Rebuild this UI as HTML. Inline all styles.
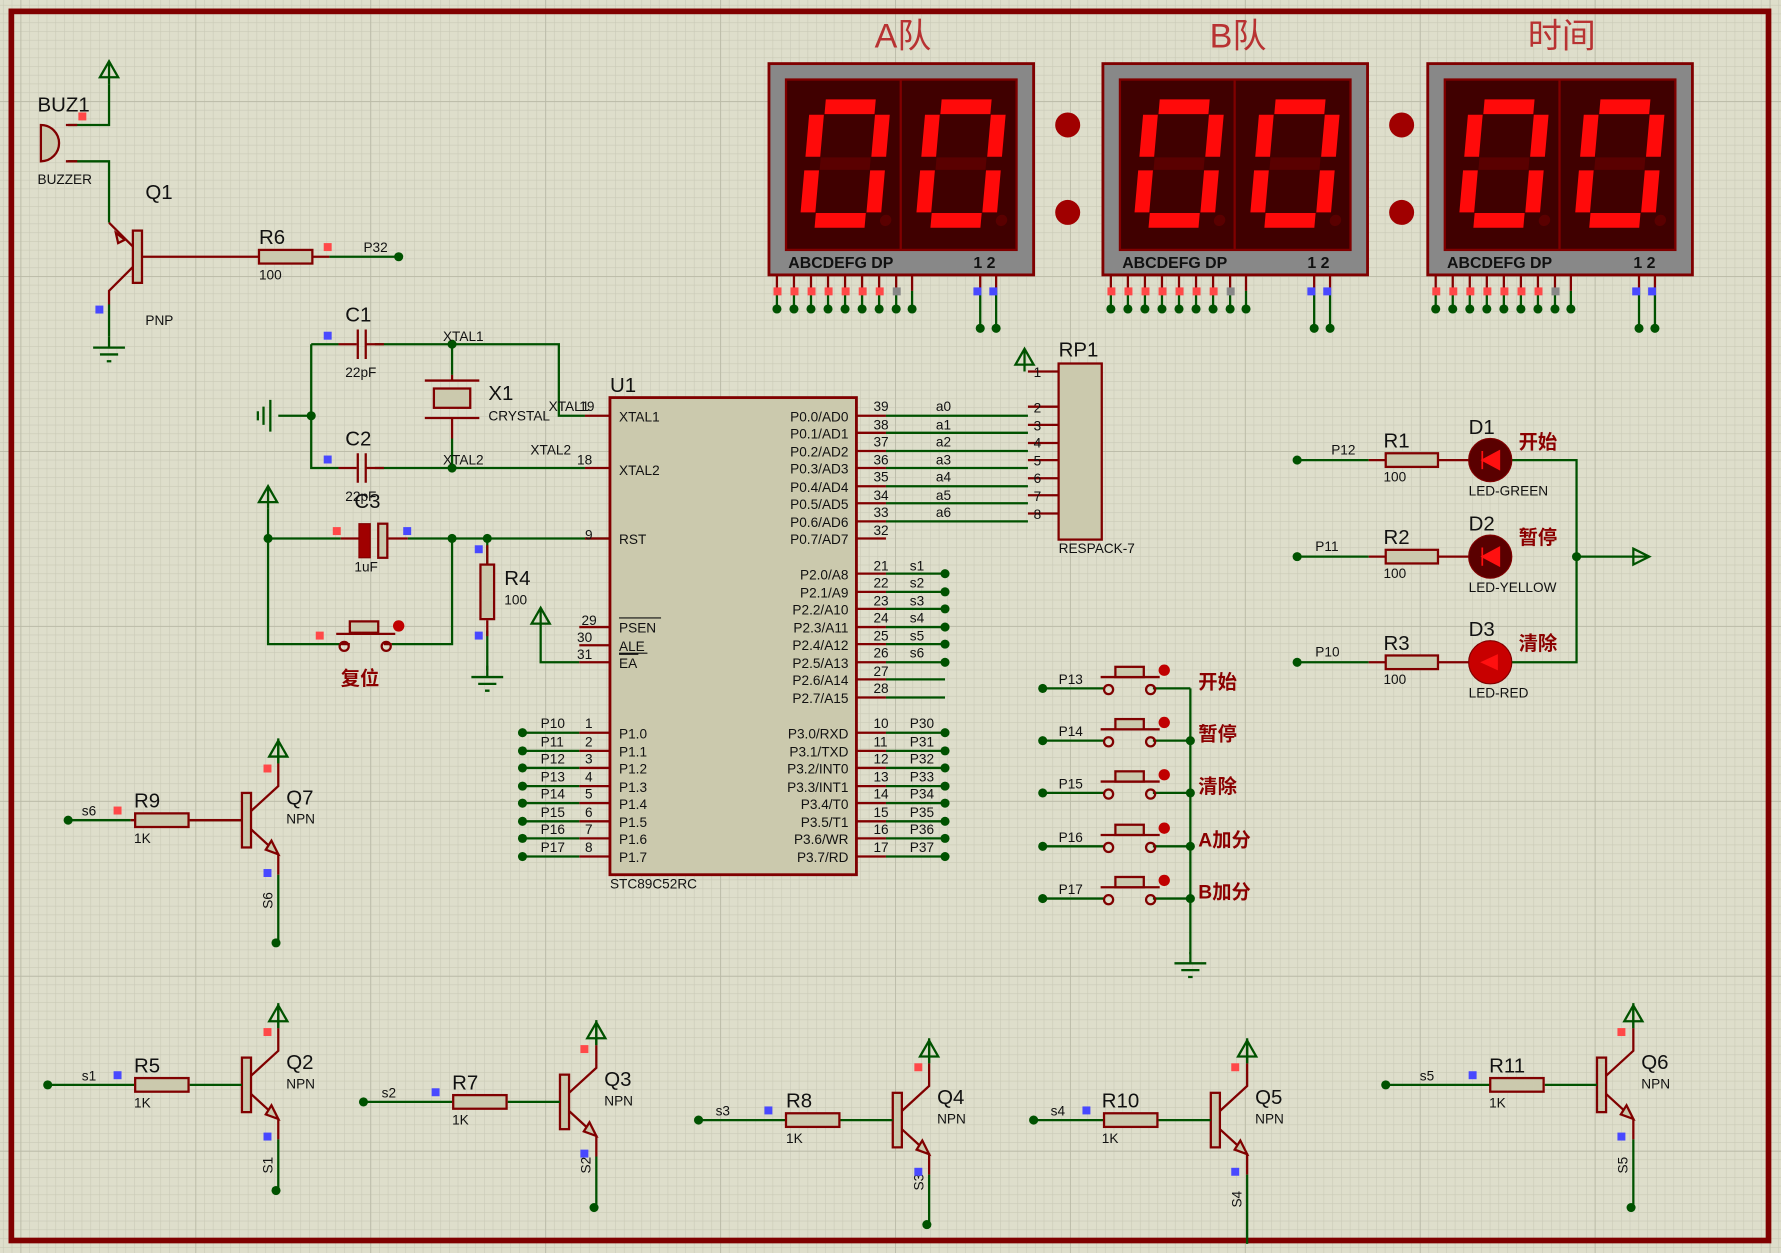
<!DOCTYPE html>
<html><head><meta charset="utf-8"><style>
html,body{margin:0;padding:0;background:#dedecb}
svg{display:block}
text{font-family:"Liberation Sans","Noto Sans CJK SC",sans-serif}
.w{stroke:#005200;stroke-width:2;fill:none}
.r{stroke:#800000;stroke-width:2;fill:none}
.b{fill:#cbc9ad;stroke:#800000;stroke-width:2}
.t{font-size:14px;fill:#111}
.s{font-size:12px;fill:#111}
.L{font-size:18px;fill:#111}
.cn{font-size:17px;fill:#8b0000;font-weight:bold}
.g{fill:#005200}
</style></head><body>
<svg width="1781" height="1253" viewBox="0 0 1568 1103" preserveAspectRatio="none" xmlns="http://www.w3.org/2000/svg">
<defs>
<pattern id="mi" x="18" y="89" width="7.7" height="7.7" patternUnits="userSpaceOnUse"><path d="M0 0H7.7M0 0V7.7" stroke="#c9c9b6" stroke-width="1"/></pattern>
<pattern id="ma" x="18" y="89" width="154" height="154" patternUnits="userSpaceOnUse"><path d="M0 0H154M0 0V154" stroke="#b9b9a6" stroke-width="1.5"/></pattern>
<g id="zero" transform="skewX(-5)">
<path d="M14 56H58" stroke="#5a0000" stroke-width="11"/>
<g stroke="#ff0a0a" stroke-width="13" stroke-linecap="butt">
<path d="M14 6H58M7 13V50M65 13V50M7 62V99M65 62V99M14 106H58"/></g>
<circle cx="76" cy="106" r="5" fill="#5a0000"/>
</g>
<g id="disp">
<rect x="0" y="0" width="233" height="186" fill="#888" stroke="#800000" stroke-width="2.5"/>
<rect x="15" y="14" width="203" height="150" fill="#400000" stroke="#800000" stroke-width="2"/>
<line x1="116" y1="14" x2="116" y2="164" stroke="#800000" stroke-width="2"/>
<use href="#zero" x="36" y="32"/><use href="#zero" x="138" y="32"/>
</g>
<g id="dpins">
<path d="M7 186V200M22 186V200M37 186V200M52 186V200M67 186V200M82 186V200M97 186V200M112 186V200M126 186V200M186 186V200M200 186V200" class="r"/>
<path d="M7 200V216M22 200V216M37 200V216M52 200V216M67 200V216M82 200V216M97 200V216M112 200V216M126 200V216M186 200V233M200 200V233" class="w"/>
<g class="g"><circle cx="7" cy="216" r="4"/><circle cx="22" cy="216" r="4"/><circle cx="37" cy="216" r="4"/><circle cx="52" cy="216" r="4"/><circle cx="67" cy="216" r="4"/><circle cx="82" cy="216" r="4"/><circle cx="97" cy="216" r="4"/><circle cx="112" cy="216" r="4"/><circle cx="126" cy="216" r="4"/><circle cx="186" cy="233" r="4"/><circle cx="200" cy="233" r="4"/></g>
<g fill="#ff4848"><rect x="4" y="197" width="7" height="7"/><rect x="19" y="197" width="7" height="7"/><rect x="34" y="197" width="7" height="7"/><rect x="49" y="197" width="7" height="7"/><rect x="64" y="197" width="7" height="7"/><rect x="79" y="197" width="7" height="7"/><rect x="94" y="197" width="7" height="7"/></g>
<rect x="109" y="197" width="7" height="7" fill="#888"/>
<g fill="#4848ff"><rect x="180" y="197" width="7" height="7"/><rect x="194" y="197" width="7" height="7"/></g>
</g>
<g id="npn">
<rect x="-4" y="-24" width="8" height="48" class="b"/>
<path d="M4 -8L28 -30V-50M4 8L28 30V48" class="r"/>
<path d="M28 30L17 26L22 18Z" class="b"/>
</g>
<g id="pwr"><path d="M0 0V-20M-8 -6L0 -20L8 -6Z" class="w" stroke-width="2.5"/></g>
<g id="gnd"><path d="M0 0V10M-14 10H14M-8 16H8M-2 22H2" class="w" stroke-width="2.5"/></g>
</defs>
<rect width="1568" height="1103" fill="#dedecb"/>
<rect width="1568" height="1103" fill="url(#mi)"/>
<rect width="1568" height="1103" fill="url(#ma)"/>
<rect x="10" y="10" width="1547" height="1082" fill="none" stroke="#800000" stroke-width="5"/>

<!-- displays -->
<text x="795" y="42" font-size="30" fill="#b83232" text-anchor="middle">A队</text>
<text x="1090" y="42" font-size="30" fill="#b83232" text-anchor="middle">B队</text>
<text x="1375" y="42" font-size="30" fill="#b83232" text-anchor="middle">时间</text>
<g transform="translate(677,56)"><use href="#disp"/><use href="#dpins"/></g>
<g transform="translate(971,56)"><use href="#disp"/><use href="#dpins"/></g>
<g transform="translate(1257,56)"><use href="#disp"/><use href="#dpins"/></g>
<g font-size="14" font-weight="bold" fill="#111" font-family="Liberation Sans">
<text x="694" y="236">ABCDEFG  DP</text><text x="857" y="236">1 2</text>
<text x="988" y="236">ABCDEFG  DP</text><text x="1151" y="236">1 2</text>
<text x="1274" y="236">ABCDEFG  DP</text><text x="1438" y="236">1 2</text>
</g>
<g fill="#a00000"><circle cx="940" cy="110" r="11"/><circle cx="940" cy="187" r="11"/><circle cx="1234" cy="110" r="11"/><circle cx="1234" cy="187" r="11"/></g>

<!-- BUZ1 / Q1 -->
<text x="33" y="98" class="L">BUZ1</text>
<text x="33" y="162" class="s">BUZZER</text>
<use href="#pwr" x="96" y="74"/>
<path d="M96 74V110H60M60 142H96V196" class="w"/>
<path d="M36 110V142A16 16 0 0 0 36 110Z" class="b"/>
<path d="M58 110H68M58 142H68" class="r"/>
<rect x="69" y="99" width="7" height="7" fill="#ff4848"/>
<text x="128" y="175" class="L">Q1</text>
<text x="128" y="286" class="s">PNP</text>
<rect x="117" y="203" width="8" height="46" class="b"/>
<path d="M117 217L96 196M117 235L96 256V268" class="r"/>
<path d="M102 205L110 211L104 214Z" class="b"/>
<path d="M96 268V296" class="w"/>
<use href="#gnd" x="96" y="296"/>
<rect x="84" y="269" width="7" height="7" fill="#4848ff"/>
<path d="M125 226H228M276 226H290" class="r"/>
<rect x="228" y="220" width="47" height="12" class="b"/>
<path d="M290 226H351" class="w"/><circle cx="351" cy="226" r="4" class="g"/>
<text x="228" y="215" class="L">R6</text><text x="228" y="246" class="s">100</text>
<text x="320" y="222" class="s">P32</text>
<rect x="285" y="214" width="7" height="7" fill="#ff4848"/>

<!-- crystal section -->
<path d="M274 303H298M330 303H398H492V366H515M274 303V412H298M330 412H515M245 366H274M398 303V330M398 386V412" class="w"/>
<path d="M298 303H314M322 303H338M298 412H314M322 412H338M515 366H537M515 412H537" class="r"/>
<path d="M315 290V316M322 290V316M315 399V425M322 399V425" class="r" stroke-width="2.5"/>
<path d="M238 352V380M232 358V374M227 362V370" class="w" stroke-width="2.5"/>
<circle cx="274" cy="366" r="4" class="g"/><circle cx="398" cy="303" r="4" class="g"/><circle cx="398" cy="412" r="4" class="g"/>
<path d="M374 335H422M374 368H422M398 330V335M398 368V386" class="r" stroke-width="2.5"/>
<rect x="382" y="342" width="32" height="17" class="b"/>
<text x="304" y="283" class="L">C1</text><text x="304" y="332" class="s">22pF</text>
<text x="304" y="392" class="L">C2</text><text x="304" y="441" class="s">22pF</text>
<text x="430" y="352" class="L">X1</text><text x="430" y="370" class="s">CRYSTAL</text>
<text x="390" y="300" class="s">XTAL1</text><text x="390" y="409" class="s">XTAL2</text>
<text x="483" y="362" class="s">XTAL1</text><text x="510" y="362" class="s">19</text>
<text x="467" y="400" class="s">XTAL2</text><text x="508" y="409" class="s">18</text>
<rect x="285" y="292" width="7" height="7" fill="#4848ff"/><rect x="285" y="401" width="7" height="7" fill="#4848ff"/>

<!-- reset -->
<use href="#pwr" x="236" y="448"/>
<path d="M236 448V567H300M345 567H398V474M236 474H300M359 474H537M429 474V496M429 555V590" class="w"/>
<path d="M300 474H316M342 474H359M515 474H537M300 567H308M338 567H345M429 480V496M429 546V560" class="r"/>
<rect x="316" y="461" width="10" height="30" fill="#a00000" stroke="#800000"/>
<rect x="333" y="461" width="8" height="30" class="b"/>
<circle cx="236" cy="474" r="4" class="g"/><circle cx="398" cy="474" r="4" class="g"/><circle cx="429" cy="474" r="4" class="g"/>
<rect x="423" y="497" width="12" height="48" class="b"/>
<use href="#gnd" x="429" y="586"/>
<circle cx="303" cy="569" r="4" class="r" fill="#dedecb"/><circle cx="340" cy="569" r="4" class="r" fill="#dedecb"/>
<path d="M296 558H348" class="r"/><rect x="308" y="547" width="25" height="10" class="b"/>
<circle cx="351" cy="551" r="5" fill="#c00000"/>
<text x="312" y="447" class="L">C3</text><text x="312" y="503" class="s">1uF</text>
<text x="444" y="515" class="L">R4</text><text x="444" y="532" class="s">100</text>
<text x="300" y="603" class="cn">复位</text>
<text x="515" y="475" class="s">9</text>
<rect x="293" y="464" width="7" height="7" fill="#ff4848"/><rect x="355" y="464" width="7" height="7" fill="#4848ff"/>
<rect x="418" y="480" width="7" height="7" fill="#4848ff"/><rect x="418" y="556" width="7" height="7" fill="#4848ff"/>
<rect x="278" y="556" width="7" height="7" fill="#ff4848"/>
<use href="#pwr" x="476" y="555"/>
<path d="M476 555V583H510" class="w"/>
<path d="M510 552H537M510 568H537M510 583H537" class="r"/>

<!-- U1 -->
<rect x="537" y="350" width="217" height="420" fill="#cbc9ad" stroke="#800000" stroke-width="2.5"/>
<text x="537" y="345" class="L">U1</text>
<text x="537" y="782" class="s">STC89C52RC</text>
<g class="s">
<text x="545" y="371">XTAL1</text><text x="545" y="418">XTAL2</text><text x="545" y="479">RST</text>
<text x="545" y="557">PSEN</text><text x="545" y="573">ALE</text><text x="545" y="588">EA</text>
<text x="545" y="650">P1.0</text><text x="545" y="666">P1.1</text><text x="545" y="681">P1.2</text><text x="545" y="697">P1.3</text><text x="545" y="712">P1.4</text><text x="545" y="728">P1.5</text><text x="545" y="743">P1.6</text><text x="545" y="759">P1.7</text>
<text x="512" y="550">29</text><text x="508" y="565">30</text><text x="508" y="580">31</text>
</g>
<path d="M545 544H582M545 575H570M545 576H562" stroke="#111" stroke-width="1"/>
<g class="s" text-anchor="end">
<text x="747" y="371">P0.0/AD0</text><text x="747" y="386">P0.1/AD1</text><text x="747" y="402">P0.2/AD2</text><text x="747" y="417">P0.3/AD3</text><text x="747" y="433">P0.4/AD4</text><text x="747" y="448">P0.5/AD5</text><text x="747" y="464">P0.6/AD6</text><text x="747" y="479">P0.7/AD7</text>
<text x="747" y="510">P2.0/A8</text><text x="747" y="526">P2.1/A9</text><text x="747" y="541">P2.2/A10</text><text x="747" y="557">P2.3/A11</text><text x="747" y="572">P2.4/A12</text><text x="747" y="588">P2.5/A13</text><text x="747" y="603">P2.6/A14</text><text x="747" y="619">P2.7/A15</text>
<text x="747" y="650">P3.0/RXD</text><text x="747" y="666">P3.1/TXD</text><text x="747" y="681">P3.2/INT0</text><text x="747" y="697">P3.3/INT1</text><text x="747" y="712">P3.4/T0</text><text x="747" y="728">P3.5/T1</text><text x="747" y="743">P3.6/WR</text><text x="747" y="759">P3.7/RD</text>
</g>
<!-- P1 -->
<path d="M510 645H537M510 661H537M510 676H537M510 692H537M510 707H537M510 723H537M510 738H537M510 754H537" class="r"/>
<path d="M460 645H510M460 661H510M460 676H510M460 692H510M460 707H510M460 723H510M460 738H510M460 754H510" class="w"/>
<g class="g"><circle cx="460" cy="645" r="4"/><circle cx="460" cy="661" r="4"/><circle cx="460" cy="676" r="4"/><circle cx="460" cy="692" r="4"/><circle cx="460" cy="707" r="4"/><circle cx="460" cy="723" r="4"/><circle cx="460" cy="738" r="4"/><circle cx="460" cy="754" r="4"/></g>
<g class="s"><text x="476" y="641">P10</text><text x="476" y="657">P11</text><text x="476" y="672">P12</text><text x="476" y="688">P13</text><text x="476" y="703">P14</text><text x="476" y="719">P15</text><text x="476" y="734">P16</text><text x="476" y="750">P17</text>
<text x="515" y="641">1</text><text x="515" y="657">2</text><text x="515" y="672">3</text><text x="515" y="688">4</text><text x="515" y="703">5</text><text x="515" y="719">6</text><text x="515" y="734">7</text><text x="515" y="750">8</text></g>
<!-- right pins -->
<path d="M754 366H780M754 381H780M754 397H780M754 412H780M754 428H780M754 443H780M754 459H780M754 474H780M754 505H780M754 521H780M754 536H780M754 552H780M754 567H780M754 583H780M754 598H780M754 614H780M754 645H780M754 661H780M754 676H780M754 692H780M754 707H780M754 723H780M754 738H780M754 754H780" class="r"/>
<path d="M780 366H905M780 381H905M780 397H905M780 412H905M780 428H905M780 443H905M780 459H905M780 505H832M780 521H832M780 536H832M780 552H832M780 567H832M780 583H832M780 598H832M780 614H832M780 645H832M780 661H832M780 676H832M780 692H832M780 707H832M780 723H832M780 738H832M780 754H832" class="w"/>
<g class="g"><circle cx="832" cy="505" r="4"/><circle cx="832" cy="521" r="4"/><circle cx="832" cy="536" r="4"/><circle cx="832" cy="552" r="4"/><circle cx="832" cy="567" r="4"/><circle cx="832" cy="583" r="4"/><circle cx="832" cy="645" r="4"/><circle cx="832" cy="661" r="4"/><circle cx="832" cy="676" r="4"/><circle cx="832" cy="692" r="4"/><circle cx="832" cy="707" r="4"/><circle cx="832" cy="723" r="4"/><circle cx="832" cy="738" r="4"/><circle cx="832" cy="754" r="4"/></g>
<g class="s">
<text x="769" y="362">39</text><text x="769" y="378">38</text><text x="769" y="393">37</text><text x="769" y="409">36</text><text x="769" y="424">35</text><text x="769" y="440">34</text><text x="769" y="455">33</text><text x="769" y="471">32</text>
<text x="769" y="502">21</text><text x="769" y="517">22</text><text x="769" y="533">23</text><text x="769" y="548">24</text><text x="769" y="564">25</text><text x="769" y="579">26</text><text x="769" y="595">27</text><text x="769" y="610">28</text>
<text x="769" y="641">10</text><text x="769" y="657">11</text><text x="769" y="672">12</text><text x="769" y="688">13</text><text x="769" y="703">14</text><text x="769" y="719">15</text><text x="769" y="734">16</text><text x="769" y="750">17</text>
<text x="824" y="362">a0</text><text x="824" y="378">a1</text><text x="824" y="393">a2</text><text x="824" y="409">a3</text><text x="824" y="424">a4</text><text x="824" y="440">a5</text><text x="824" y="455">a6</text>
<text x="801" y="502">s1</text><text x="801" y="517">s2</text><text x="801" y="533">s3</text><text x="801" y="548">s4</text><text x="801" y="564">s5</text><text x="801" y="579">s6</text>
<text x="801" y="641">P30</text><text x="801" y="657">P31</text><text x="801" y="672">P32</text><text x="801" y="688">P33</text><text x="801" y="703">P34</text><text x="801" y="719">P35</text><text x="801" y="734">P36</text><text x="801" y="750">P37</text>
</g>
<!-- RP1 -->
<rect x="932" y="320" width="38" height="155" class="b"/>
<text x="932" y="314" class="L">RP1</text><text x="932" y="487" class="s">RESPACK-7</text>
<path d="M905 327H932M905 358H932M905 374H932M905 390H932M905 405H932M905 421H932M905 436H932M905 452H932" class="r"/>
<use href="#pwr" x="902" y="327"/>
<g class="s"><text x="910" y="332">1</text><text x="910" y="363">2</text><text x="910" y="379">3</text><text x="910" y="394">4</text><text x="910" y="410">5</text><text x="910" y="425">6</text><text x="910" y="441">7</text><text x="910" y="457">8</text></g>

<!-- LEDs -->
<g>
<path d="M1142 405H1205M1142 490H1205M1142 583H1205M1330 405H1388V583H1330M1388 490H1450" class="w"/>
<path d="M1205 405H1220M1266 405H1294M1205 490H1220M1266 490H1294M1205 583H1220M1266 583H1294" class="r"/>
<path d="M1438 483L1452 490L1438 497Z" class="w"/>
<g class="g"><circle cx="1142" cy="405" r="4"/><circle cx="1142" cy="490" r="4"/><circle cx="1142" cy="583" r="4"/><circle cx="1388" cy="490" r="4"/></g>
<rect x="1220" y="399" width="46" height="12" class="b"/><rect x="1220" y="484" width="46" height="12" class="b"/><rect x="1220" y="577" width="46" height="12" class="b"/>
<circle cx="1312" cy="405" r="19" fill="#5a0000" stroke="#800000"/>
<circle cx="1312" cy="490" r="19" fill="#5a0000" stroke="#800000"/>
<circle cx="1312" cy="583" r="19" fill="#c80000" stroke="#800000"/>
<path d="M1305 397V413M1320 397L1305 405L1320 413Z M1305 482V498M1320 482L1305 490L1320 498Z M1305 583L1318 577V589Z" fill="#ff1010" stroke="#ff1010" stroke-width="1.5"/>
<g class="L"><text x="1218" y="394">R1</text><text x="1218" y="479">R2</text><text x="1218" y="572">R3</text><text x="1293" y="382">D1</text><text x="1293" y="467">D2</text><text x="1293" y="560">D3</text></g>
<g class="s"><text x="1218" y="424">100</text><text x="1218" y="509">100</text><text x="1218" y="602">100</text>
<text x="1293" y="436">LED-GREEN</text><text x="1293" y="521">LED-YELLOW</text><text x="1293" y="614">LED-RED</text>
<text x="1172" y="400">P12</text><text x="1158" y="485">P11</text><text x="1158" y="578">P10</text></g>
<g class="cn"><text x="1337" y="395">开始</text><text x="1337" y="479">暂停</text><text x="1337" y="572">清除</text></g>
</g>

<!-- buttons -->
<g>
<path d="M918 606H972M1015 606H1048M918 652H972M1015 652H1048M918 698H972M1015 698H1048M918 745H972M1015 745H1048M918 791H972M1015 791H1048M1048 606V840" class="w"/>
<use href="#gnd" x="1048" y="838"/>
<g class="g"><circle cx="918" cy="606" r="4"/><circle cx="918" cy="652" r="4"/><circle cx="918" cy="698" r="4"/><circle cx="918" cy="745" r="4"/><circle cx="918" cy="791" r="4"/><circle cx="1048" cy="652" r="4"/><circle cx="1048" cy="698" r="4"/><circle cx="1048" cy="745" r="4"/><circle cx="1048" cy="791" r="4"/></g>
<g id="btn"><circle cx="976" cy="607" r="4" class="r" fill="#dedecb"/><circle cx="1013" cy="607" r="4" class="r" fill="#dedecb"/><path d="M969 596H1021" class="r"/><rect x="982" y="587" width="25" height="9" class="b"/><circle cx="1025" cy="590" r="5" fill="#c00000"/></g>
<use href="#btn" y="46"/><use href="#btn" y="92"/><use href="#btn" y="139"/><use href="#btn" y="185"/>
<g class="s"><text x="932" y="602">P13</text><text x="932" y="648">P14</text><text x="932" y="694">P15</text><text x="932" y="741">P16</text><text x="932" y="787">P17</text></g>
<g class="cn"><text x="1055" y="606">开始</text><text x="1055" y="652">暂停</text><text x="1055" y="698">清除</text><text x="1055" y="745">A加分</text><text x="1055" y="791">B加分</text></g>
</g>

<!-- transistors -->
<use href="#npn" x="217" y="722"/><use href="#pwr" x="245" y="672"/>
<path d="M245 672V650M245 770V830M60 722H115M167 722H213" class="w"/><path d="M115 722H118M167 722H213" class="r"/>
<rect x="119" y="716" width="47" height="12" class="b"/><circle cx="60" cy="722" r="4" class="g"/><circle cx="243" cy="830" r="4" class="g"/>
<text x="118" y="711" class="L">R9</text><text x="118" y="742" class="s">1K</text><text x="72" y="718" class="s">s6</text><text x="252" y="708" class="L">Q7</text><text x="252" y="725" class="s">NPN</text>
<use href="#npn" x="217" y="955"/><use href="#pwr" x="245" y="905"/>
<path d="M245 905V883M245 1003V1048M42 955H118M167 955H213" class="w"/>
<rect x="119" y="949" width="47" height="12" class="b"/><circle cx="42" cy="955" r="4" class="g"/><circle cx="243" cy="1048" r="4" class="g"/>
<text x="118" y="944" class="L">R5</text><text x="118" y="975" class="s">1K</text><text x="72" y="951" class="s">s1</text><text x="252" y="941" class="L">Q2</text><text x="252" y="958" class="s">NPN</text>
<use href="#npn" x="497" y="970"/><use href="#pwr" x="525" y="920"/>
<path d="M525 920V898M525 1018V1063M320 970H398M447 970H493" class="w"/>
<rect x="399" y="964" width="47" height="12" class="b"/><circle cx="320" cy="970" r="4" class="g"/><circle cx="523" cy="1063" r="4" class="g"/>
<text x="398" y="959" class="L">R7</text><text x="398" y="990" class="s">1K</text><text x="336" y="966" class="s">s2</text><text x="532" y="956" class="L">Q3</text><text x="532" y="973" class="s">NPN</text>
<use href="#npn" x="790" y="986"/><use href="#pwr" x="818" y="936"/>
<path d="M818 936V914M818 1034V1078M615 986H692M740 986H786" class="w"/>
<rect x="692" y="980" width="47" height="12" class="b"/><circle cx="615" cy="986" r="4" class="g"/><circle cx="816" cy="1078" r="4" class="g"/>
<text x="692" y="975" class="L">R8</text><text x="692" y="1006" class="s">1K</text><text x="630" y="982" class="s">s3</text><text x="825" y="972" class="L">Q4</text><text x="825" y="989" class="s">NPN</text>
<use href="#npn" x="1070" y="986"/><use href="#pwr" x="1098" y="936"/>
<path d="M1098 936V914M1098 1034V1095M910 986H972M1020 986H1066" class="w"/>
<rect x="972" y="980" width="47" height="12" class="b"/><circle cx="910" cy="986" r="4" class="g"/>
<text x="970" y="975" class="L">R10</text><text x="970" y="1006" class="s">1K</text><text x="925" y="982" class="s">s4</text><text x="1105" y="972" class="L">Q5</text><text x="1105" y="989" class="s">NPN</text>
<use href="#npn" x="1410" y="955"/><use href="#pwr" x="1438" y="905"/>
<path d="M1438 905V883M1438 1003V1063M1220 955H1312M1360 955H1406" class="w"/>
<rect x="1312" y="949" width="47" height="12" class="b"/><circle cx="1220" cy="955" r="4" class="g"/><circle cx="1436" cy="1063" r="4" class="g"/>
<text x="1311" y="944" class="L">R11</text><text x="1311" y="975" class="s">1K</text><text x="1250" y="951" class="s">s5</text><text x="1445" y="941" class="L">Q6</text><text x="1445" y="958" class="s">NPN</text>
<g class="s"><text transform="translate(240,800) rotate(-90)">S6</text><text transform="translate(240,1033) rotate(-90)">S1</text><text transform="translate(520,1033) rotate(-90)">S2</text><text transform="translate(813,1048) rotate(-90)">S3</text><text transform="translate(1093,1063) rotate(-90)">S4</text><text transform="translate(1433,1033) rotate(-90)">S5</text></g>
<g fill="#ff4848"><rect x="232" y="673" width="7" height="7"/><rect x="232" y="905" width="7" height="7"/><rect x="511" y="920" width="7" height="7"/><rect x="805" y="936" width="7" height="7"/><rect x="1084" y="936" width="7" height="7"/><rect x="1424" y="905" width="7" height="7"/><rect x="100" y="710" width="7" height="7"/></g>
<g fill="#4848ff"><rect x="232" y="765" width="7" height="7"/><rect x="232" y="997" width="7" height="7"/><rect x="511" y="1012" width="7" height="7"/><rect x="805" y="1028" width="7" height="7"/><rect x="1084" y="1028" width="7" height="7"/><rect x="1424" y="997" width="7" height="7"/><rect x="100" y="943" width="7" height="7"/><rect x="380" y="958" width="7" height="7"/><rect x="673" y="974" width="7" height="7"/><rect x="953" y="974" width="7" height="7"/><rect x="1293" y="943" width="7" height="7"/></g>
</svg>
</body></html>
